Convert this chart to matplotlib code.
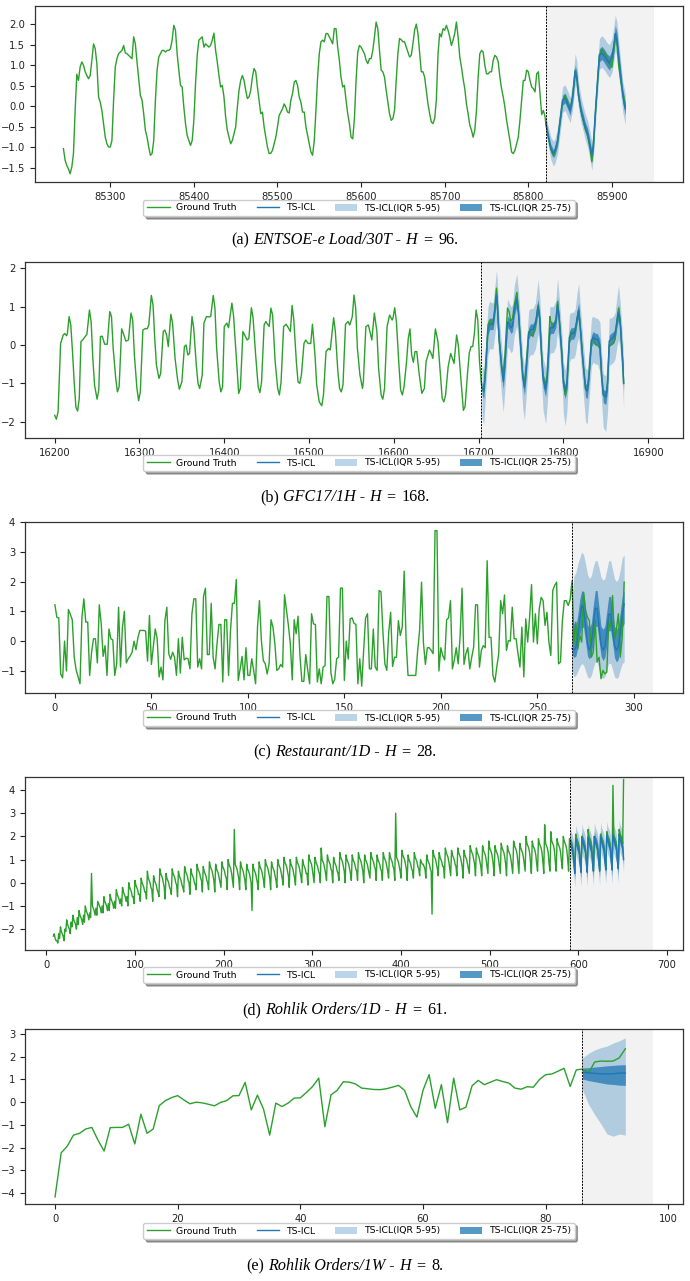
import matplotlib
matplotlib.use("Agg")
import matplotlib.pyplot as plt
from matplotlib.lines import Line2D
from matplotlib.patches import Patch
from matplotlib.ticker import MultipleLocator

# ---------------- data ----------------
# (a) ENTSOE-e Load/30T
a_ctx_start, a_ctx_step = 85244, 2
a_ctx_v = [-1.03,-1.31,-1.44,-1.52,-1.64,-1.48,-1.15,-0.1,0.78,0.63,0.96,1.08,1.0,0.84,0.75,0.67,0.75,1.12,1.52,1.4,
           1.04,0.23,0.1,-0.1,-0.42,-0.75,-0.91,-0.99,-0.99,-0.83,0.15,0.96,1.16,1.28,1.32,1.36,1.48,1.3,1.28,1.24,
           1.2,1.16,1.69,1.52,1.08,0.67,0.27,0.15,-0.18,-0.58,-0.75,-0.99,-1.19,-1.15,-0.83,0.15,0.88,1.2,1.28,1.36,
           1.36,1.32,1.36,1.36,1.4,1.61,1.97,1.85,1.28,0.88,0.51,0.47,-0.02,-0.42,-0.71,-0.83,-0.95,-0.83,-0.34,0.55,
           1.24,1.61,1.65,1.69,1.44,1.52,1.48,1.44,1.48,1.61,1.78,1.36,1.08,0.75,0.47,0.51,0.23,-0.26,-0.58,-0.75,
           -0.91,-0.83,-0.67,-0.5,-0.02,0.39,0.63,0.75,0.63,0.39,0.19,0.23,0.39,0.71,0.92,0.84,0.47,0.15,-0.18,-0.14,
           -0.5,-0.75,-0.99,-1.15,-1.14,-1.07,-0.91,-0.75,-0.5,-0.22,-0.14,-0.06,0.06,-0.02,-0.14,-0.16,0.15,0.31,0.59,0.63,
           0.51,0.23,0.1,
           -0.14,-0.14,-0.5,-0.71,-0.91,-1.11,-1.19,-0.83,-0.1,0.71,1.28,1.57,1.61,1.57,1.77,1.77,1.69,1.61,1.52,1.89,
           1.89,1.44,1.12,0.71,0.47,0.51,0.15,-0.18,-0.42,-0.75,-0.79,-0.3,0.63,1.32,1.48,1.44,1.36,1.28,1.12,1.04,
           1.16,1.16,1.36,1.69,2.05,1.89,1.36,0.88,0.84,0.71,0.39,0.1,-0.18,-0.34,-0.3,-0.1,0.63,1.28,1.65,1.62,
           1.57,1.57,1.44,1.32,1.2,1.24,1.52,1.85,2.0,1.77,1.32,0.84,0.84,0.71,0.39,0.06,-0.18,-0.38,-0.42,-0.3,
           0.15,1.28,1.77,1.69,1.89,1.85,1.97,1.85,1.69,1.48,1.61,1.77,2.05,1.69,1.2,0.96,0.67,0.43,0.06,-0.18,
           -0.46,-0.58,-0.75,-0.58,-0.1,0.71,1.28,1.36,1.32,1.0,0.79,0.79,0.84,0.84,1.12,1.24,1.2,1.08,0.71,0.43,
           0.23,-0.02,-0.34,-0.58,-0.83,-1.11,-1.15,-1.07,-0.91,-0.75,-0.34,0.15,0.63,0.63,0.88,0.84,0.63,0.47,0.43,0.35,
           0.79,0.84,0.3,-0.2,-0.1,-0.25]
a_fc_t = [85821,85824,85827,85830,85832,85835,85838,85841,85844,85847,85850,85853,85856,85858,85860,85863,85865,85868,
          85871,85874,85876,85878,85880,85883,85885,85888,85891,85894,85897,85900,85902,85904,85906,85908,85911,85913,85916]
a_fc_gt = [-0.42,-0.78,-1.05,-1.2,-1.1,-0.85,-0.35,0.12,0.27,0.1,-0.05,0.25,0.88,0.7,0.25,-0.12,-0.3,-0.55,-0.72,-1.05,
           -1.35,-1.0,-0.25,0.65,1.25,1.38,1.3,1.2,1.05,0.95,1.3,1.75,1.55,1.0,0.55,0.35,0.0]
a_q50 = [-0.42,-0.75,-1.03,-1.15,-1.07,-0.83,-0.34,0.15,0.2,0.06,-0.1,0.23,0.85,0.71,0.27,-0.1,-0.26,-0.5,-0.67,-0.99,
         -1.2,-0.85,-0.18,0.71,1.24,1.3,1.22,1.12,1.05,1.2,1.44,1.77,1.61,1.2,0.63,0.25,-0.06]
a_q25 = [-0.5,-0.85,-1.13,-1.25,-1.18,-0.95,-0.46,0.03,0.08,-0.06,-0.22,0.1,0.7,0.58,0.14,-0.22,-0.38,-0.62,-0.8,-1.12,
         -1.33,-0.98,-0.32,0.56,1.08,1.14,1.06,0.96,0.88,1.03,1.26,1.58,1.42,1.02,0.46,0.08,-0.22]
a_q75 = [-0.34,-0.65,-0.93,-1.05,-0.96,-0.71,-0.22,0.27,0.32,0.18,0.02,0.36,1.0,0.84,0.4,0.02,-0.14,-0.38,-0.54,-0.86,
         -1.07,-0.72,-0.04,0.86,1.4,1.46,1.38,1.28,1.22,1.37,1.62,1.96,1.8,1.38,0.8,0.42,0.1]
a_q05 = [-0.55,-0.98,-1.3,-1.45,-1.38,-1.15,-0.65,-0.15,-0.1,-0.25,-0.4,-0.08,0.5,0.4,-0.05,-0.4,-0.55,-0.8,-1.0,-1.32,
         -1.56,-1.2,-0.5,0.35,0.9,0.95,0.88,0.78,0.7,0.82,1.05,1.35,1.2,0.8,0.2,-0.15,-0.45]
a_q95 = [-0.25,-0.5,-0.75,-0.85,-0.78,-0.52,-0.02,0.48,0.52,0.38,0.22,0.58,1.28,1.1,0.6,0.22,0.05,-0.18,-0.35,-0.65,
         -0.85,-0.5,0.15,1.08,1.65,1.72,1.65,1.55,1.5,1.65,1.92,2.22,2.05,1.62,1.0,0.6,0.3]
a_split, a_shade_end = 85821, 85950

# (b) GFC17/1H
b_ctx_t = [16200,16202,16204,16206,16207,16210,16212,16214,16215,16217,16219,16221,16223,16225,16227,16229,16231,16233,
           16236,16238,16241,16243,16245,16247,16250,16252,16254,16256,16259,16262,16265,16267,16269,16272,16274,16276,
           16279,16281,16284,16287,16290,16292,16294,16297,16299,16301,16304,16307,16309,16311,16314,16316,16318,16320,
           16323,16325,16328,16330,16332,16334,16337,16339,16342,16345,16347,16350,16353,16355,16357,16359,16362,16364,
           16367,16369,16371,16374,16376,16379,16382,16384,16387,16389,16391,16394,16396,16398,16400,16403,16405,16409,
           16411,16414,16417,16419,16422,16424,16427,16429,16432,16434,16437,16440,16442,16444,16447,16449,16453,16455,
           16457,16460,16463,16465,16467,16470,16473,16476,16478,16480,16482,16485,16487,16489,16491,16494,16496,16499,
           16502,16504,16507,16509,16512,16515,16517,16520,16523,16525,16529,16531,16534,16536,16538,16540,16543,16546,
           16548,16551,16553,16555,16557,16560,16563,16564,16567,16570,16573,16574,16577,16580,16582,16585,16587,16589,
           16592,16595,16598,16599,16601,16603,16606,16608,16610,16612,16615,16617,16619,16621,16623,16625,16627,16630,
           16633,16636,16638,16642,16644,16646,16649,16652,16655,16657,16659,16661,16664,16667,16669,16671,16674,16676,
           16679,16682,16684,16687,16689,16691,16693,16695,16697,16699,16701,16703]
b_ctx_v = [-1.83,-1.93,-1.74,-0.52,0.04,0.26,0.3,0.24,0.3,0.74,0.52,-0.17,-0.96,-1.61,-1.72,-1.39,0.09,0.13,
           0.22,0.28,0.91,0.61,-0.35,-1.04,-1.41,-1.17,0.22,0.23,0.02,0.02,0.87,0.74,-0.09,-0.87,-1.22,-1.09,
           0.42,0.3,0.1,0.13,0.83,0.65,-0.26,-1.13,-1.45,-1.22,0.39,0.43,0.42,0.52,1.29,1.04,0.17,-0.52,
           -0.87,-0.74,0.35,0.39,0.26,-0.04,0.8,0.57,-0.35,-0.91,-1.15,-0.96,-0.04,0.0,-0.26,-0.22,0.74,0.43,
           -0.52,-1.0,-1.13,-0.78,0.57,0.74,0.73,0.74,1.29,0.96,-0.09,-0.96,-1.22,-1.09,0.48,0.57,0.45,1.09,
           0.75,-0.26,-1.26,-1.13,0.35,0.26,0.13,0.17,0.97,0.7,-0.26,-1.09,-1.24,-0.96,0.52,0.61,0.48,0.96,
           0.78,-0.43,-1.13,-1.3,-0.96,0.48,0.54,0.43,0.35,1.03,0.65,-0.43,-0.96,-1.0,-0.78,0.04,0.13,0.04,
           0.04,0.54,-0.26,-1.04,-1.48,-1.58,-1.3,-0.17,-0.09,-0.13,0.71,0.35,-0.7,-1.13,-1.22,-1.04,0.54,0.61,
           0.52,0.74,1.3,0.96,-0.09,-0.78,-1.13,-0.96,0.48,0.52,0.22,0.13,0.83,0.35,-0.61,-1.3,-1.41,-1.13,
           0.48,0.78,0.65,0.7,0.97,0.61,-0.52,-1.17,-1.3,-1.09,-0.43,0.17,0.42,-0.26,-0.45,-0.17,-0.17,-0.78,
           -1.26,-1.13,-0.43,-0.13,-0.22,-0.35,0.42,0.09,-0.78,-1.39,-1.48,-1.3,-0.57,-0.22,-0.35,-0.48,0.26,0.0,
           -0.87,-1.7,-1.6,-0.7,-0.2,-0.04,-0.04,0.3,0.91,0.65,-0.43,-0.96]
b_fc_t = [16704,16706,16708,16711,16713,16715,16717,16719,16721,16722,16724,16727,16729,16731,16734,16736,16738,16740,
          16742,16745,16747,16750,16752,16754,16756,16759,16761,16764,16767,16770,16772,16774,16776,16779,16781,16784,
          16785,16788,16791,16793,16795,16798,16800,16802,16804,16807,16809,16812,16814,16816,16818,16820,16823,16826,
          16828,16830,16833,16835,16838,16840,16843,16845,16847,16850,16852,16854,16856,16859,16861,16863,16865,16867,
          16870,16871]
b_fc_gt = [-1.13,-1.22,-0.61,0.52,0.65,0.57,0.5,0.96,1.48,1.13,0.17,-0.52,-0.74,-0.26,0.96,0.87,0.61,0.7,1.04,1.37,
           0.87,-0.17,-0.78,-1.0,-0.52,0.35,0.3,0.22,0.52,1.04,0.7,-0.17,-0.78,-1.04,-0.7,0.74,0.61,0.48,0.61,1.13,
           0.7,-0.17,-0.96,-1.3,-1.13,0.09,0.35,0.28,0.35,0.65,0.91,0.43,-0.43,-1.13,-1.17,-0.78,0.13,0.17,0.0,0.0,
           -0.09,-0.83,-1.3,-1.35,-0.96,0.0,0.0,0.04,0.17,0.65,0.96,0.61,-0.52,-1.0]
b_q50 = [-1.1,-1.2,-0.7,0.4,0.55,0.55,0.55,0.9,1.3,1.05,0.2,-0.6,-0.95,-0.5,0.6,0.55,0.45,0.5,0.9,1.2,
         0.8,-0.2,-0.85,-1.1,-0.7,0.3,0.4,0.4,0.55,1.0,0.7,-0.2,-0.9,-1.15,-0.8,0.4,0.45,0.45,0.6,1.05,
         0.65,-0.25,-1.0,-1.2,-1.0,0.2,0.3,0.3,0.4,0.7,0.9,0.4,-0.45,-1.15,-1.2,-0.85,0.1,0.2,0.15,0.15,
         0.0,-0.8,-1.3,-1.35,-1.0,0.1,0.15,0.2,0.3,0.6,0.85,0.55,-0.5,-1.0]
b_q75 = [-0.95,-1.05,-0.55,0.55,0.7,0.7,0.7,1.1,1.5,1.25,0.35,-0.45,-0.8,-0.35,0.75,0.7,0.6,0.65,1.1,1.4,
         0.95,-0.05,-0.7,-0.95,-0.55,0.45,0.55,0.55,0.7,1.2,0.85,-0.05,-0.75,-1.0,-0.65,0.55,0.6,0.6,0.75,1.25,
         0.8,-0.1,-0.85,-1.05,-0.85,0.35,0.45,0.45,0.55,0.9,1.1,0.55,-0.3,-1.0,-1.05,-0.7,0.25,0.35,0.3,0.3,
         0.15,-0.65,-1.15,-1.2,-0.85,0.25,0.3,0.35,0.45,0.8,1.05,0.7,-0.35,-0.85]
b_q25 = [-1.3,-1.4,-0.85,0.25,0.4,0.4,0.4,0.75,1.1,0.85,0.05,-0.75,-1.15,-0.65,0.45,0.4,0.3,0.35,0.75,1.0,
         0.65,-0.35,-1.05,-1.3,-0.85,0.15,0.25,0.25,0.4,0.8,0.55,-0.35,-1.1,-1.35,-0.95,0.25,0.3,0.3,0.45,0.85,
         0.5,-0.4,-1.2,-1.4,-1.2,0.05,0.15,0.15,0.25,0.55,0.7,0.25,-0.6,-1.35,-1.4,-1.0,-0.05,0.05,0.0,0.0,
         -0.15,-0.95,-1.5,-1.55,-1.2,-0.05,0.0,0.05,0.15,0.45,0.65,0.4,-0.65,-1.2]
b_q95 = [-0.55,-0.65,-0.1,1.0,1.15,1.1,1.1,1.5,1.95,1.7,0.8,0.0,-0.4,0.1,1.2,1.1,1.0,1.05,1.55,1.85,
         1.4,0.4,-0.3,-0.55,-0.1,0.9,0.95,0.95,1.1,1.7,1.3,0.4,-0.35,-0.6,-0.2,1.0,1.0,1.0,1.15,1.75,
         1.25,0.35,-0.45,-0.65,-0.4,0.8,0.85,0.85,0.95,1.35,1.6,1.0,0.15,-0.6,-0.65,-0.25,0.7,0.75,0.7,0.7,
         0.6,-0.2,-0.75,-0.8,-0.4,0.7,0.7,0.75,0.85,1.25,1.55,1.1,0.1,-0.45]
b_q05 = [-1.9,-2.05,-1.35,-0.25,-0.1,-0.1,-0.1,0.25,0.6,0.35,-0.5,-1.3,-1.75,-1.15,-0.05,-0.1,-0.2,-0.15,0.25,0.5,
         0.15,-0.9,-1.65,-1.95,-1.35,-0.35,-0.25,-0.25,-0.1,0.3,0.05,-0.9,-1.7,-2.05,-1.5,-0.25,-0.2,-0.2,-0.05,0.35,
         0.0,-0.95,-1.8,-2.1,-1.75,-0.45,-0.35,-0.35,-0.25,0.05,0.2,-0.3,-1.15,-2.0,-2.05,-1.5,-0.55,-0.45,-0.5,-0.5,
         -0.7,-1.5,-2.15,-2.25,-1.75,-0.55,-0.5,-0.45,-0.35,-0.05,0.15,-0.15,-1.2,-1.65]
b_split, b_shade_end = 16703, 16906

# (c) Restaurant/1D
c_ctx_v = [1.22,0.8,0.78,-1.1,-1.23,0.0,-1.0,1.06,0.9,0.72,-0.54,-0.96,-1.2,-1.43,0.8,1.42,0.64,0.64,-1.15,-0.37,
           0.08,0.08,-0.73,1.22,0.58,-0.51,-0.15,-1.15,0.41,0.08,0.04,-1.15,-0.76,1.14,-0.87,0.47,1.0,-0.73,-0.59,-0.5,
           -0.37,0.0,-0.29,0.11,0.36,0.36,0.36,0.34,-0.67,0.86,-0.78,-0.2,0.41,0.08,-1.2,-0.87,-1.3,0.69,1.14,-0.42,
           -0.61,-0.37,-0.54,-1.15,0.08,-1.07,0.13,-0.63,-0.57,-0.59,-0.93,0.92,1.42,1.42,-0.87,-0.59,-0.93,1.5,1.78,-0.45,
           -0.45,1.27,-0.54,-0.93,-0.09,0.56,0.56,-1.37,0.72,0.72,-1.15,0.36,1.27,1.27,2.07,-1.32,-0.93,-0.51,-1.3,-0.22,
           -1.15,-1.15,-0.59,-0.98,-1.43,0.47,1.36,0.02,-0.65,-0.76,-1.1,-0.76,0.72,0.47,-0.09,-0.98,-0.93,-0.78,-0.87,1.56,
           1.03,0.53,-0.09,-1.3,0.72,0.25,0.84,-0.5,-1.35,-1.35,-0.45,-0.96,-1.43,0.92,0.58,0.56,-1.37,-0.93,-1.43,-0.87,
           -0.82,1.5,1.5,-1.04,-1.43,-1.28,-0.59,-0.54,1.78,1.78,-1.32,0.0,-0.6,0.75,0.78,0.6,0.56,-1.43,-0.59,-1.51,
           -0.31,0.78,0.92,-0.93,-0.93,0.41,-0.87,-0.98,1.7,1.66,0.3,-0.76,-0.98,0.3,0.97,-0.85,-0.54,-0.54,0.69,0.19,
           0.47,2.35,0.02,-1.15,-1.15,-1.15,-1.15,-1.15,-0.31,0.36,1.98,-0.07,-0.78,-0.22,-0.22,-0.31,-0.42,3.71,3.71,-1.0,
           -0.22,-0.48,-0.63,0.72,0.78,1.36,-0.93,-0.63,-0.22,-0.76,0.19,1.78,-0.78,-0.42,-0.22,-0.93,-0.54,-0.2,1.22,1.22,
           -0.87,-0.31,-0.15,-0.22,2.7,0.13,0.13,-1.15,-1.37,-0.87,-0.42,1.36,0.92,1.55,-0.31,0.02,0.0,1.14,0.08,0.08,
           -0.42,-0.87,0.47,-1.2,0.75,-0.03,0.8,1.9,-0.03,0.92,-0.09,1.08,1.47,1.36,0.53,0.97,-0.03,-0.48,1.7,1.87,
           1.98,-0.76,-0.7,0.69,1.36,1.36,1.2,1.39,2.03]
c_fc_gt = [-0.09,0.64,-0.26,0.19,-0.03,1.64,1.03,0.8,0.69,-0.54,-0.37,0.69,-0.7,-0.54,-1.26,-0.98,-1.1,-1.04,0.64,0.47,
           1.53,0.02,0.41,0.92,-0.54,0.13,1.98]
c_fc_start = 268
c_q50 = [-0.25,-0.3,-0.2,0.2,0.7,1.2,1.1,0.5,-0.1,-0.3,-0.1,0.5,1.1,1.1,0.5,-0.1,-0.3,-0.2,0.3,0.9,0.9,0.4,-0.15,-0.3,
         -0.2,0.3,0.9,1.25]
c_q75 = [0.95,0.6,0.5,0.9,1.4,1.7,1.65,1.1,0.55,0.45,0.6,1.2,1.7,1.7,1.1,0.5,0.4,0.5,1.0,1.5,1.5,1.0,0.5,0.4,
         0.5,1.0,1.5,1.7]
c_q25 = [-0.45,-0.55,-0.5,-0.2,0.2,0.5,0.45,0.0,-0.5,-0.6,-0.45,0.0,0.5,0.5,0.0,-0.5,-0.65,-0.55,-0.15,0.35,0.35,-0.05,
         -0.55,-0.7,-0.6,-0.1,0.45,0.6]
c_q95 = [1.5,2.2,2.3,2.6,2.8,3.0,2.9,2.6,2.25,2.1,2.2,2.5,2.7,2.7,2.45,2.15,2.05,2.1,2.4,2.7,2.7,2.4,2.1,2.0,
         2.1,2.4,2.8,2.9]
c_q05 = [-1.0,-1.2,-1.15,-1.0,-0.85,-0.75,-0.8,-1.0,-1.2,-1.25,-1.15,-0.9,-0.7,-0.7,-0.95,-1.2,-1.25,-1.2,-0.95,-0.75,
         -0.75,-0.95,-1.2,-1.25,-1.2,-0.95,-0.75,-0.7]
c_shade_end = 310

# (d) Rohlik Orders/1D  -- one row per two weeks, days 8..651
d_start = 8
d_truth = [
    -2.3,-2.2,-2.4,-2.5,-2.5,-2.6,-2.2,   -2.4,-1.9,-2.1,-2.2,-2.3,-2.5,-2.0,
    -2.1,-1.6,-1.8,-1.9,-2.0,-2.2,-1.7,   -1.9,-1.4,-1.6,-1.7,-1.8,-2.0,-1.5,
    -1.8,-1.2,-1.4,-1.5,-1.6,-1.8,-1.4,   -1.7,-1.0,-1.2,-1.3,-1.4,-1.6,-1.3,
    -1.5,0.4,-1.0,-1.1,-1.2,-1.4,-1.1,    -1.4,-0.8,-0.9,-1.0,-1.1,-1.3,-1.0,
    -1.3,-0.6,-0.8,-0.9,-1.0,-1.2,-0.9,   -1.2,-0.5,-0.7,-0.8,-0.9,-1.1,-0.8,
    -1.1,-0.3,-0.5,-0.6,-0.7,-0.9,-0.7,   -1.0,-0.2,-0.4,-0.5,-0.6,-0.8,-0.6,
    -1.0,0.0,-0.2,-0.3,-0.4,-0.6,-0.6,    -0.9,0.1,-0.1,-0.2,-0.3,-0.5,-0.5,
    -0.8,0.2,0.0,-0.1,-0.2,-0.4,-0.4,     -0.7,0.5,0.2,0.1,0.0,-0.2,-0.3,
    -0.8,0.3,0.1,0.0,-0.1,-0.3,-0.4,      -0.6,0.6,0.4,0.3,0.2,0.0,-0.2,
    -0.7,0.4,0.2,0.1,0.0,-0.2,-0.3,       -0.5,0.6,0.4,0.3,0.2,0.0,-0.1,
    -0.6,0.5,0.3,0.2,0.1,-0.1,-0.2,       -0.4,0.7,0.5,0.4,0.3,0.1,0.0,
    -0.5,0.6,0.4,0.3,0.2,0.0,-0.1,        -0.3,0.8,0.6,0.5,0.4,0.2,0.1,
    -0.4,0.7,0.5,0.4,0.3,0.1,0.0,         -0.3,0.9,0.7,0.6,0.5,0.3,0.1,
    -0.4,0.8,0.6,0.5,0.4,0.2,0.0,         -0.2,0.9,0.7,0.6,0.5,0.3,0.2,
    -0.3,1.0,0.8,0.7,0.6,0.4,0.1,         -0.2,2.3,0.8,0.7,0.6,0.4,0.2,
    -0.3,0.9,0.7,0.6,0.5,0.3,0.1,         -0.3,0.8,0.6,0.5,0.4,0.2,0.0,
    -1.2,0.8,0.6,0.5,0.4,0.2,0.0,         -0.3,0.9,0.7,0.6,0.5,0.3,0.1,
    -0.2,1.0,0.8,0.7,0.6,0.4,0.2,         -0.3,0.9,0.7,0.6,0.5,0.3,0.1,
    -0.2,1.0,0.8,0.7,0.6,0.4,0.2,         -0.1,1.1,0.9,0.8,0.7,0.5,0.3,
    -0.2,1.0,0.8,0.7,0.6,0.4,0.2,         -0.1,1.1,0.9,0.8,0.7,0.5,0.3,
    0.0,1.0,0.8,0.7,0.6,0.4,0.4,          -0.1,1.2,1.0,0.9,0.8,0.6,0.3,
    0.0,1.1,0.9,0.8,0.7,0.5,0.4,          0.0,1.5,1.0,0.9,0.8,0.6,0.4,
    0.1,1.2,1.0,0.9,0.8,0.6,0.5,          0.0,1.1,0.9,0.8,0.7,0.5,0.4,
    0.1,1.3,1.1,1.0,0.9,0.7,0.5,          0.0,1.2,1.0,0.9,0.8,0.6,0.4,
    0.1,1.2,1.0,0.9,0.8,0.6,0.5,          0.1,1.3,1.1,1.0,0.9,0.7,0.5,
    0.0,1.2,1.0,0.9,0.8,0.6,0.4,          0.2,1.3,1.1,1.0,0.9,0.7,0.6,
    0.1,1.2,1.0,0.9,0.8,0.6,0.5,          0.1,1.3,1.1,1.0,0.9,0.7,0.5,
    0.2,1.3,1.1,1.0,0.9,0.7,0.6,          0.1,3.0,1.1,1.0,0.9,0.7,0.5,
    0.2,1.4,1.2,1.1,1.0,0.8,0.6,          0.1,1.2,1.0,0.9,0.8,0.6,0.5,
    0.2,1.3,1.1,1.0,0.9,0.7,0.6,          0.3,1.0,0.9,0.8,0.8,0.7,0.6,
    0.2,1.2,1.0,0.9,0.8,0.6,0.5,          -1.35,1.4,1.2,1.1,1.0,0.8,0.6,
    0.3,1.3,1.1,1.0,0.9,0.7,0.7,          0.2,1.5,1.3,1.2,1.1,0.9,0.6,
    0.3,1.4,1.2,1.1,1.0,0.8,0.7,          0.3,1.5,1.3,1.2,1.1,0.9,0.7,
    0.2,1.4,1.2,1.1,1.0,0.8,0.6,          0.4,1.6,1.4,1.3,1.2,1.0,0.8,
    0.3,1.5,1.3,1.2,1.1,0.9,0.7,          0.3,1.6,1.4,1.3,1.2,1.0,0.7,
    0.4,1.8,1.5,1.4,1.3,1.1,0.8,          0.3,1.6,1.4,1.3,1.2,1.0,0.7,
    0.4,1.7,1.5,1.4,1.3,1.1,0.8,          0.3,1.6,1.4,1.3,1.2,1.0,0.7,
    0.4,1.8,1.6,1.5,1.4,1.2,0.8,          0.4,1.7,1.5,1.4,1.3,1.1,0.8,
    0.5,2.0,1.7,1.6,1.5,1.3,0.9,          0.4,1.8,1.6,1.5,1.4,1.2,0.8,
    0.5,1.9,1.7,1.6,1.5,1.3,0.9,          0.4,2.5,1.7,1.6,1.5,1.3,0.8,
    0.5,2.2,1.8,1.7,1.6,1.4,0.9,          0.5,1.9,1.7,1.6,1.5,1.3,0.9,
    0.6,2.0,1.8,1.7,1.6,1.4,1.0,          0.5,1.9,1.7,1.6,1.5,1.3,0.9,
    0.5,2.1,1.9,1.8,1.7,1.5,0.9,          0.6,2.0,1.8,1.7,1.6,1.4,1.0,
    0.6,2.3,2.0,1.9,1.8,1.6,1.0,          0.5,2.0,1.8,1.7,1.6,1.4,0.9,
    0.6,2.1,1.9,1.8,1.7,1.5,1.0,          0.7,2.2,2.0,1.9,1.8,1.6,1.1,
    0.6,4.2,2.0,1.9,1.8,1.6,1.0,          0.7,2.3,2.1,2.0,1.9,1.7,4.45,
]
d_split = 591
d_q50 = [1.7,1.6,1.5,1.3,0.8,
         0.4,1.9,1.7,1.6,1.5,1.3,0.8,  0.45,1.95,1.75,1.65,1.55,1.35,0.85,
         0.45,1.95,1.75,1.65,1.55,1.35,0.85,  0.5,2.0,1.8,1.7,1.6,1.4,0.9,
         0.5,2.0,1.8,1.7,1.6,1.4,0.9,  0.55,2.05,1.85,1.75,1.65,1.45,0.95,
         0.55,2.05,1.85,1.75,1.65,1.45,0.95,  0.6,2.1,1.9,1.8,1.7,1.5,1.0]
d_q75 = [1.95,1.85,1.75,1.55,1.05,
         0.65,2.15,1.95,1.85,1.75,1.55,1.05,  0.7,2.2,2.0,1.9,1.8,1.6,1.1,
         0.7,2.2,2.0,1.9,1.8,1.6,1.1,  0.75,2.25,2.05,1.95,1.85,1.65,1.15,
         0.75,2.25,2.05,1.95,1.85,1.65,1.15,  0.8,2.3,2.1,2.0,1.9,1.7,1.2,
         0.8,2.3,2.1,2.0,1.9,1.7,1.2,  0.85,2.35,2.15,2.05,1.95,1.75,1.25]
d_q25 = [1.45,1.35,1.25,1.05,0.55,
         0.15,1.65,1.45,1.35,1.25,1.05,0.55,  0.2,1.7,1.5,1.4,1.3,1.1,0.6,
         0.2,1.7,1.5,1.4,1.3,1.1,0.6,  0.25,1.75,1.55,1.45,1.35,1.15,0.65,
         0.25,1.75,1.55,1.45,1.35,1.15,0.65,  0.3,1.8,1.6,1.5,1.4,1.2,0.7,
         0.3,1.8,1.6,1.5,1.4,1.2,0.7,  0.35,1.85,1.65,1.55,1.45,1.25,0.75]
d_q95 = [2.3,2.2,2.1,1.9,1.4,
         1.0,2.5,2.3,2.2,2.1,1.9,1.4,  1.05,2.55,2.35,2.25,2.15,1.95,1.45,
         1.05,2.55,2.35,2.25,2.15,1.95,1.45,  1.1,2.6,2.4,2.3,2.2,2.0,1.5,
         1.1,2.6,2.4,2.3,2.2,2.0,1.5,  1.15,2.65,2.45,2.35,2.25,2.05,1.55,
         1.15,2.65,2.45,2.35,2.25,2.05,1.55,  1.2,2.7,2.5,2.4,2.3,2.1,1.6]
d_q05 = [1.1,1.0,0.9,0.7,0.2,
         -0.2,1.3,1.1,1.0,0.9,0.7,0.2,  -0.15,1.35,1.15,1.05,0.95,0.75,0.25,
         -0.15,1.35,1.15,1.05,0.95,0.75,0.25,  -0.1,1.4,1.2,1.1,1.0,0.8,0.3,
         -0.1,1.4,1.2,1.1,1.0,0.8,0.3,  -0.05,1.45,1.25,1.15,1.05,0.85,0.35,
         -0.05,1.45,1.25,1.15,1.05,0.85,0.35,  0.0,1.5,1.3,1.2,1.1,0.9,0.4]
d_shade_end = 684

# (e) Rohlik Orders/1W
e_ctx_v = [-4.17,-2.23,-1.93,-1.45,-1.37,-1.18,-1.11,-1.67,-2.15,-1.12,-1.11,-1.11,-0.97,-1.84,-0.53,-1.37,-1.18,-0.15,
           0.07,0.2,0.29,0.1,-0.07,0.0,-0.03,-0.09,-0.16,-0.01,0.07,0.28,0.29,0.87,-0.34,0.31,-0.31,-1.45,-0.04,-0.19,
           -0.04,0.18,0.19,0.43,0.69,1.06,-1.08,0.32,0.52,0.9,0.88,0.8,0.62,0.59,0.56,0.55,0.59,0.66,0.74,0.52,
           -0.19,-0.66,0.52,1.21,-0.27,0.77,-0.9,1.06,-0.34,-0.22,0.72,0.96,0.77,0.88,0.99,0.91,0.84,0.62,0.57,0.68,
           0.66,1.0,1.21,1.24,1.36,1.49,0.69,1.42,1.46]
e_fc_gt = [1.28,1.77,1.81,1.8,1.81,1.95,2.35]
e_fc_start = 86
e_q50 = [1.31,1.29,1.27,1.25,1.24,1.25,1.28,1.28]
e_q25 = [1.02,0.95,0.9,0.85,0.8,0.78,0.75,0.74]
e_q75 = [1.5,1.52,1.55,1.57,1.6,1.62,1.64,1.65]
e_q05 = [0.55,-0.1,-0.55,-0.95,-1.4,-1.5,-1.4,-1.45]
e_q95 = [1.95,2.15,2.3,2.4,2.47,2.6,2.7,2.83]
e_shade_end = 97.5

captions = [
    ("(a)", "ENTSOE-e Load/30T -", "96."),
    ("(b)", "GFC17/1H -", "168."),
    ("(c)", "Restaurant/1D -", "28."),
    ("(d)", "Rohlik Orders/1D -", "61."),
    ("(e)", "Rohlik Orders/1W -", "8."),
]
legend_labels = ["Ground Truth", "TS-ICL", "TS-ICL(IQR 5-95)", "TS-ICL(IQR 25-75)"]

# ---------------- drawing ----------------
W, H = 690, 1281
fig = plt.figure(figsize=(W / 100, H / 100), dpi=100)
GREEN = "#2ca02c"
BLUE = "#1f77b4"
LIGHT_A, DARK_A = 0.3, 0.75


def add_ax(x0, y0, x1, y1):
    return fig.add_axes([x0 / W, 1 - y1 / H, (x1 - x0) / W, (y1 - y0) / H])


def draw_panel(ax, gt_t, gt_v, fc_t, q05, q25, q50, q75, q95, split, shade_end):
    ax.axvspan(split, shade_end, color="#f2f2f2", lw=0, zorder=0)
    ax.axvline(split, color="black", ls=(0, (2, 1.2)), lw=0.7, zorder=6)
    ax.fill_between(fc_t, q05, q95, color=BLUE, alpha=LIGHT_A, lw=0, zorder=2)
    ax.fill_between(fc_t, q25, q75, color=BLUE, alpha=DARK_A, lw=0, zorder=2)
    ax.plot(gt_t, gt_v, color=GREEN, lw=1.0, zorder=3)
    ax.plot(fc_t, q50, color=BLUE, lw=1.0, zorder=4)
    ax.tick_params(labelsize=7.2, length=3.5, width=0.8, colors="#222222")
    for s in ax.spines.values():
        s.set_color("#333333")
        s.set_linewidth(0.9)


def add_legend(yc_px):
    handles = [Line2D([], [], color=GREEN, lw=1.0), Line2D([], [], color=BLUE, lw=1.0),
               Patch(facecolor=BLUE, alpha=LIGHT_A, lw=0), Patch(facecolor=BLUE, alpha=DARK_A, lw=0)]
    fig.legend(handles, legend_labels, loc="center", bbox_to_anchor=(359 / W, 1 - yc_px / H), ncol=4,
               fontsize=6.7, fancybox=True, shadow=True, frameon=True, handlelength=2.4,
               handletextpad=0.75, columnspacing=2.1, borderpad=0.4)


renderer = fig.canvas.get_renderer()
SERIF = "Liberation Serif"
CAP_FS = 11.6


def text_w(s, style):
    t = fig.text(0, 0, s, fontsize=CAP_FS, family=SERIF, style=style)
    w = t.get_window_extent(renderer).width
    t.remove()
    return w


SPACE = text_w("x x", "normal") - text_w("xx", "normal")


def add_caption(yc_px, lab, name, hval):
    parts = [(lab, "normal"), (name, "italic"), ("H", "italic"), ("=", "normal"), (hval, "normal")]
    widths = [text_w(s, st) for s, st in parts]
    gaps = [SPACE, SPACE, SPACE * 1.5, SPACE * 1.5]
    total = sum(widths) + sum(gaps)
    x = 345 - total / 2
    for i, ((s, st), w) in enumerate(zip(parts, widths)):
        fig.text(x / W, 1 - yc_px / H, s, fontsize=CAP_FS, family=SERIF, style=st, va="center", ha="left")
        x += w + (gaps[i] if i < len(gaps) else 0)


# (a)
ax = add_ax(35, 6, 683, 182)
a_ctx_t = [a_ctx_start + a_ctx_step * i for i in range(len(a_ctx_v))]
draw_panel(ax, a_ctx_t + a_fc_t, a_ctx_v + a_fc_gt, a_fc_t, a_q05, a_q25, a_q50, a_q75, a_q95, a_split, a_shade_end)
ax.set_xlim(85210, 85985)
ax.set_ylim(-1.84, 2.44)
ax.xaxis.set_major_locator(MultipleLocator(100))
ax.yaxis.set_major_locator(MultipleLocator(0.5))

# (b)
ax = add_ax(25, 262, 683, 438)
draw_panel(ax, b_ctx_t + b_fc_t, b_ctx_v + b_fc_gt, b_fc_t, b_q05, b_q25, b_q50, b_q75, b_q95, b_split, b_shade_end)
ax.set_xlim(16165, 16941)
ax.set_ylim(-2.42, 2.16)
ax.xaxis.set_major_locator(MultipleLocator(100))
ax.yaxis.set_major_locator(MultipleLocator(1))

# (c)
ax = add_ax(25, 522, 683, 693)
c_all = c_ctx_v + c_fc_gt
c_t = list(range(len(c_all)))
c_fc_t = list(range(c_fc_start, c_fc_start + len(c_q50)))
draw_panel(ax, c_t, c_all, c_fc_t, c_q05, c_q25, c_q50, c_q75, c_q95, c_fc_start, c_shade_end)
ax.set_xlim(-15.5, 325.5)
ax.set_ylim(-1.74, 4.0)
ax.xaxis.set_major_locator(MultipleLocator(50))
ax.yaxis.set_major_locator(MultipleLocator(1))

# (d)
ax = add_ax(25, 777, 683, 950)
d_t = list(range(d_start, d_start + len(d_truth)))
d_fc_t = list(range(d_split, d_split + len(d_q50)))
draw_panel(ax, d_t, d_truth, d_fc_t, d_q05, d_q25, d_q50, d_q75, d_q95, d_split, d_shade_end)
ax.set_xlim(-24, 718)
ax.set_ylim(-2.9, 4.56)
ax.xaxis.set_major_locator(MultipleLocator(100))
ax.yaxis.set_major_locator(MultipleLocator(1))

# (e)
ax = add_ax(25, 1029, 683, 1204)
e_all = e_ctx_v + e_fc_gt
e_t = list(range(len(e_all)))
e_fc_t = list(range(e_fc_start, e_fc_start + len(e_q50)))
draw_panel(ax, e_t, e_all, e_fc_t, e_q05, e_q25, e_q50, e_q75, e_q95, e_fc_start, e_shade_end)
ax.set_xlim(-4.9, 102.4)
ax.set_ylim(-4.48, 3.22)
ax.xaxis.set_major_locator(MultipleLocator(20))
ax.yaxis.set_major_locator(MultipleLocator(1))

for yc in [208, 463, 718, 975, 1231]:
    add_legend(yc)
for yc, (lab, name, hv) in zip([240, 497, 752, 1010, 1266], captions):
    add_caption(yc, lab, name, hv)

fig.savefig("out.png", dpi=100)
